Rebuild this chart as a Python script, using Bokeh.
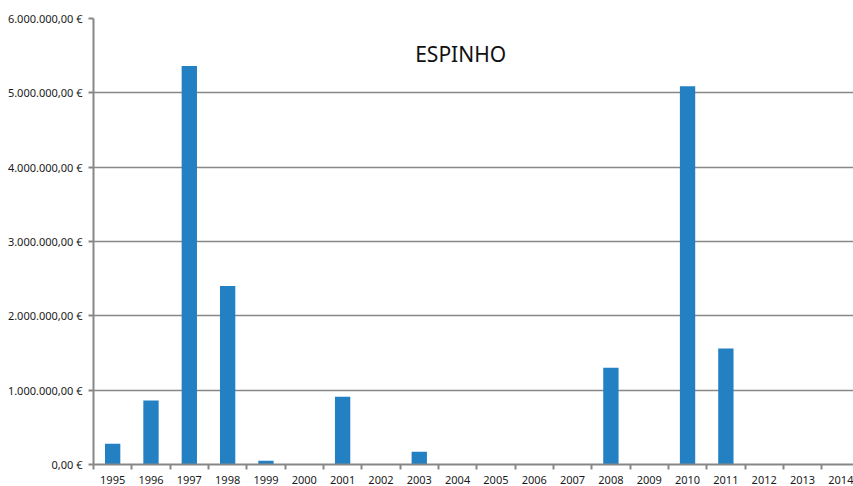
from bokeh.plotting import figure
from bokeh.models import Range1d, FixedTicker, Label, ColumnDataSource
from bokeh.embed import file_html
from bokeh.resources import INLINE

years = ["1995", "1996", "1997", "1998", "1999", "2000", "2001", "2002", "2003", "2004",
         "2005", "2006", "2007", "2008", "2009", "2010", "2011", "2012", "2013", "2014"]
values = [280000, 860000, 5360000, 2400000, 50000, 0, 910000, 0, 170000, 0,
          0, 0, 0, 1300000, 0, 5090000, 1560000, 0, 0, 0]
y_ticks = [0, 1000000, 2000000, 3000000, 4000000, 5000000, 6000000]
y_tick_labels = ["0,00 €", "1.000.000,00 €", "2.000.000,00 €", "3.000.000,00 €",
                 "4.000.000,00 €", "5.000.000,00 €", "6.000.000,00 €"]
title_text = "ESPINHO"

GRAY = "#878787"
BAR = "#2381c3"
FONT = "Noto Sans"

xs = [i + 0.5 for i in range(len(years))]
src = ColumnDataSource(dict(x=xs, top=values))

p = figure(width=853, height=486, output_backend="svg", toolbar_location=None,
           x_range=Range1d(0, 19.83), y_range=Range1d(0, 6000000),
           min_border_left=93, min_border_right=0, min_border_top=18, min_border_bottom=21)
p.outline_line_color = None
p.background_fill_color = "white"
p.border_fill_color = "white"

p.vbar(x="x", top="top", width=0.4, bottom=0, source=src, fill_color=BAR, line_color=None)

# x axis
xt = FixedTicker(ticks=xs, minor_ticks=list(range(len(years) + 1)))
p.xaxis.ticker = xt
p.xaxis.major_label_overrides = {x: y for x, y in zip(xs, years)}
p.xaxis.major_tick_out = 0
p.xaxis.major_tick_in = 0
p.xaxis.minor_tick_out = 5
p.xaxis.minor_tick_in = 0
p.xaxis.minor_tick_line_color = GRAY
p.xaxis.minor_tick_line_width = 2
p.xaxis.axis_line_color = GRAY
p.xaxis.axis_line_width = 2
p.xaxis.major_label_standoff = 6
p.xaxis.major_label_text_font = FONT
p.xaxis.major_label_text_font_size = "11px"
p.xaxis.major_label_text_color = "#1a1a1a"
p.xgrid.visible = False

# y axis
p.yaxis.ticker = FixedTicker(ticks=y_ticks, minor_ticks=[])
p.yaxis.major_label_overrides = {t: l for t, l in zip(y_ticks, y_tick_labels)}
p.yaxis.major_tick_out = 5
p.yaxis.major_tick_in = 0
p.yaxis.major_tick_line_color = GRAY
p.yaxis.major_tick_line_width = 2
p.yaxis.axis_line_color = GRAY
p.yaxis.axis_line_width = 2
p.yaxis.major_label_standoff = 6
p.yaxis.major_label_text_font = FONT
p.yaxis.major_label_text_font_size = "11px"
p.yaxis.major_label_text_color = "#1a1a1a"
p.ygrid.ticker = p.yaxis.ticker
p.ygrid.grid_line_color = GRAY
p.ygrid.grid_line_width = 1.6

p.add_layout(Label(x=9.58, y=5520000, text=title_text, text_font=FONT,
                   text_font_size="21px", text_align="center", text_baseline="middle",
                   text_color="#111111"))

open("out.html", "w").write(file_html(p, INLINE))
